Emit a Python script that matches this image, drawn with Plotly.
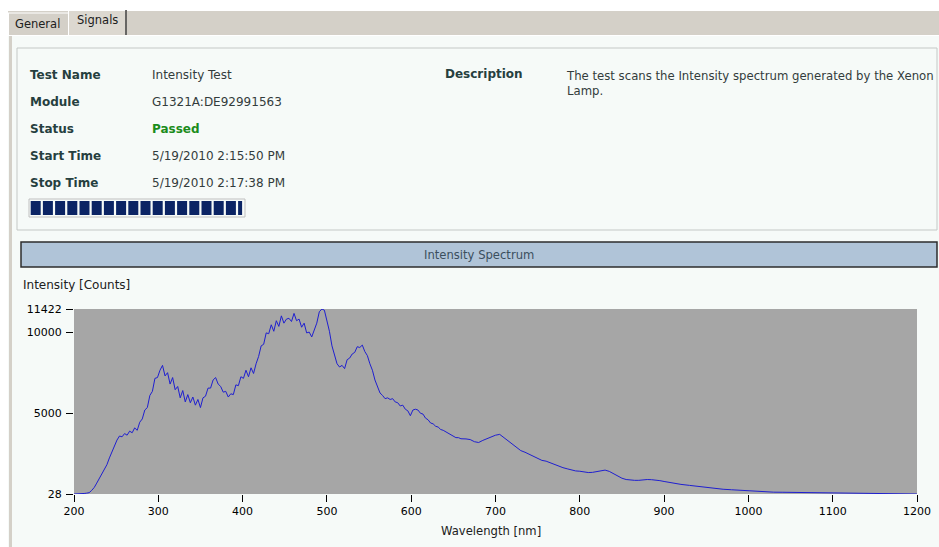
import plotly.graph_objects as go

# ---- spectrum data ----
wl_a = list(range(200, 662, 3))
int_a = [
    28, 28, 30, 35, 60, 80, 110,
    250, 430, 700, 1000, 1300, 1580, 1830, 2250, 2650, 3050, 3350, 3600, 3550, 3750,
    3650, 3900, 3800, 4100, 3950, 4450, 4650, 5200, 5350, 6100, 6350, 7150, 7200, 7650,
    7950, 7300, 7500, 6800, 7200, 6450, 6650, 5950, 6400, 5700, 6150, 5650, 6000, 5500,
    5850, 5350, 5950, 6050, 6550, 6550, 7050, 7200, 6800, 6650, 6300, 6350, 6000, 6200,
    6150, 6750, 6700, 7250, 7150, 7650, 7250, 7800, 7450, 8050, 8500, 9150, 9250, 9950,
    9900, 10450, 10050, 10700, 10350, 11000, 10550, 10800, 10850, 10650, 11150, 10700,
    10800, 10300, 10550, 9950, 10000, 9700, 10150, 10550, 11250, 11422, 11350, 10750,
    10050, 9150, 8550, 8050, 7850, 7950, 7750, 8300, 8400, 8650, 8750, 9100, 9050, 9200,
    8800, 8550, 8050, 7650, 7050, 6650, 6250, 6100, 5900, 5950, 5850, 5900, 5700, 5650,
    5450, 5500, 5250, 5150, 4850, 5200, 5250, 5200, 5000, 4950, 4700, 4600, 4400, 4350,
    4200, 4150, 4000, 3950, 3850, 3800, 3650, 3600, 3500, 3500, 3430,
]
wl_b = list(range(665, 900, 5))
int_b = [
    3420, 3380, 3250, 3200, 3330, 3450, 3570, 3650, 3700, 3500,
    3300, 3050, 2850, 2700, 2600, 2480, 2350, 2200, 2100, 2050,
    1950, 1820, 1750, 1650, 1580, 1500, 1450, 1430, 1380, 1350,
    1360, 1420, 1450, 1500, 1420, 1280, 1150, 1000, 920, 880,
    870, 870, 900, 920, 910, 900, 850,
]
wl_c = list(range(900, 1201, 10))
int_c = [
    800, 700, 620, 560, 490, 430, 380, 320, 290, 260,
    200, 180, 160, 140, 135, 130, 130, 125, 120, 115,
    110, 60, 55, 50, 45, 40, 38, 35, 32, 30, 28,
]
wavelength = wl_a + wl_b + wl_c
intensity = int_a + int_b + int_c

x_ticks = [200, 300, 400, 500, 600, 700, 800, 900, 1000, 1100, 1200]
y_ticks = [28, 5000, 10000, 11422]

info_labels = ["Test Name", "Module", "Status", "Start Time", "Stop Time"]
info_values = ["Intensity Test", "G1321A:DE92991563", "Passed",
               "5/19/2010 2:15:50 PM", "5/19/2010 2:17:38 PM"]
description = "The test scans the Intensity spectrum generated by the Xenon<br>Lamp."

# ---- page geometry (pixels) ----
PAGE_W, PAGE_H = 939, 547
L, R, T, B = 74, 917, 309, 494
PANEL = "#f6faf8"
FONT = "DejaVu Sans"


def fx(x):
    return (x - L) / (R - L)


def fy(y):
    return (B - y) / (B - T)


def rect(x0, y0, x1, y1, fill=None, line=None, lw=1):
    return dict(type="rect", xref="paper", yref="paper", layer="below",
                x0=fx(x0), x1=fx(x1), y0=fy(y0), y1=fy(y1),
                fillcolor=fill or "rgba(0,0,0,0)",
                line=dict(color=line or "rgba(0,0,0,0)", width=lw if line else 0))


def hline(x0, x1, y, color, lw=1):
    return dict(type="line", xref="paper", yref="paper", layer="below",
                x0=fx(x0), x1=fx(x1), y0=fy(y), y1=fy(y), line=dict(color=color, width=lw))


def vline(x, y0, y1, color, lw=1):
    return dict(type="line", xref="paper", yref="paper", layer="below",
                x0=fx(x), x1=fx(x), y0=fy(y0), y1=fy(y1), line=dict(color=color, width=lw))


def text(x, y, s, size=12, color="#2f3d3d", bold=False, xanchor="left", yanchor="middle"):
    if bold:
        s = "<b>" + s + "</b>"
    return dict(xref="paper", yref="paper", x=fx(x), y=fy(y), text=s, showarrow=False,
                xanchor=xanchor, yanchor=yanchor, align="left",
                font=dict(family=FONT, size=size, color=color))


fig = go.Figure()
fig.add_trace(go.Scatter(
    x=wavelength, y=intensity, mode="lines",
    line=dict(color="#1f1fd0", width=1), hoverinfo="skip",
))

shapes = [
    rect(0, 0, PAGE_W, 11, fill="white"),
    rect(0, 0, 8, PAGE_H, fill="white"),
    rect(8, 11, PAGE_W, 35, fill="#d4d0c8"),
    hline(8, 68, 13, "white"),
    vline(8.5, 13, 35, "white"),
    rect(68, 10, 127, 35, fill="#dcd8d0"),
    hline(68, 126, 10.5, "white"),
    vline(68.5, 10, 35, "white"),
    vline(126, 10, 35, "#404040", 1.5),
    hline(8, PAGE_W, 35.5, "white"),
    rect(9, 36, 12, PAGE_H, fill="#d4d0c8"),
    rect(17, 48, 937, 230, line="#c4c8c6"),
    rect(29, 199, 245, 217, line="#c0c0c0"),
    rect(21, 242, 937, 267, fill="#b0c4d8", line="#2c2c2c", lw=1.5),
]
# progress-bar blocks
for i in range(18):
    x0 = 30.7 + i * 12.2
    w = 10 if i < 17 else 4
    shapes.append(rect(x0, 201, x0 + w, 215, fill="#0b2464"))

annotations = [
    text(13, 24, "General", size=11.5, color="#202020"),
    text(75, 20, "Signals", size=11.5, color="#202020"),
    text(21, 285, "Intensity [Counts]", color="#202020"),
    text(491, 531, "Wavelength [nm]", size=11.6, color="#202020", xanchor="center"),
    text(479, 255, "Intensity Spectrum", size=11.6, color="#3b4f5e", xanchor="center"),
    text(443, 74, "Description", size=12, color="#263f3f", bold=True),
    text(564, 67, description, size=11.7, color="#333c3c", yanchor="top"),
]
rows_y = [75, 102, 129, 156, 183]
for lab, val, yy in zip(info_labels, info_values, rows_y):
    annotations.append(text(28, yy, lab, size=12, color="#263f3f", bold=True))
    if val == "Passed":
        annotations.append(text(150, yy, val, size=12, color="#1b8c1b", bold=True))
    else:
        annotations.append(text(150, yy, val, color="#333c3c"))

fig.update_layout(
    width=PAGE_W, height=PAGE_H, autosize=False,
    margin=dict(l=L, r=PAGE_W - R, t=T, b=PAGE_H - B, pad=0, autoexpand=False),
    paper_bgcolor=PANEL, plot_bgcolor="#a6a6a6",
    font=dict(family=FONT, size=11, color="black"),
    showlegend=False,
    shapes=shapes, annotations=annotations,
)
fig.update_xaxes(
    range=[200, 1200], tickvals=x_ticks, ticks="outside", ticklen=7,
    tickcolor="black", showgrid=False, zeroline=False, showline=False,
    automargin=False,
)
fig.update_yaxes(
    range=[28, 11422], tickvals=y_ticks, ticktext=[str(v) for v in y_ticks],
    ticks="outside", ticklen=7, tickcolor="black", ticklabelstandoff=2,
    showgrid=False, zeroline=False, showline=False, automargin=False,
)

# drop the default page margin so the figure fills the window exactly
fig.write_html(
    "out.html",
    config={"responsive": False, "displayModeBar": False},
    post_script="document.body.style.margin='0';document.body.style.overflow='hidden';",
)
